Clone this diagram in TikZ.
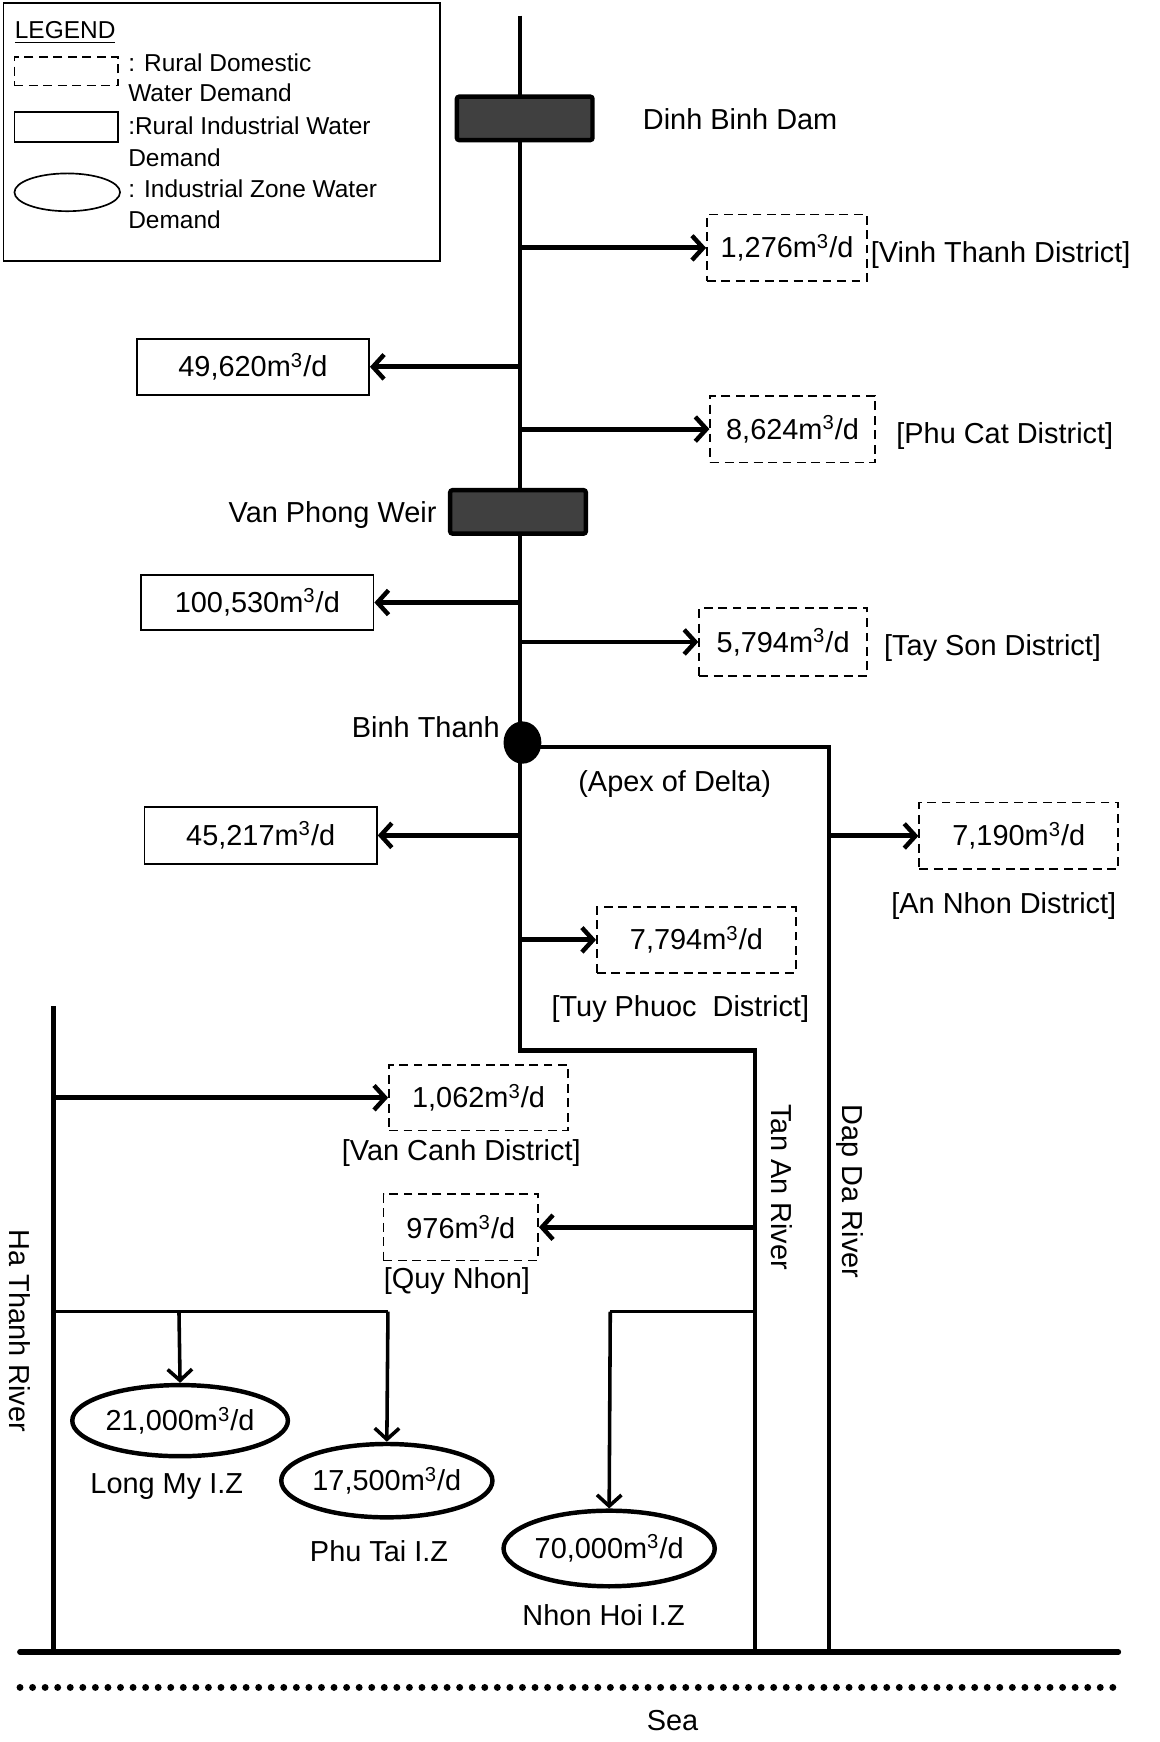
\documentclass[tikz,border=0pt]{standalone}
\usepackage{fontspec}
\setmainfont{Liberation Sans}
\usetikzlibrary{arrows.meta,shapes.geometric}
\begin{document}
\begin{tikzpicture}[x=0.5pt,y=-0.5pt,
  every node/.style={font=\fontsize{13pt}{15pt}\selectfont,inner sep=0pt},
  legtext/.style={font=\fontsize{11pt}{13pt}\selectfont,anchor=base west},
  river/.style={line width=2pt,line join=miter},
  branch/.style={line width=1.6pt,line join=miter},
  flow/.style={line width=2.2pt,-{Straight Barb[length=5pt,width=11pt,line width=2pt]}},
  thinflow/.style={line width=1.6pt,-{Straight Barb[length=5pt,width=11pt,line width=1.6pt]}},
  dbox/.style={draw,dash pattern=on 4pt off 2.5pt,line width=0.8pt,rectangle},
  sbox/.style={draw,line width=0.8pt,rectangle},
  izone/.style={draw,ellipse,line width=2pt,fill=white},
  dam/.style={draw,line width=2pt,fill=black!75,rounded corners=1pt,minimum width=61pt,minimum height=19.5pt},
]
\useasboundingbox (0,0) rectangle (1043.5,1567.1);

% ---------- legend ----------
\node[draw,line width=0.75pt,rectangle,minimum width=196.5pt,minimum height=116pt] (legend) at (199.5,119) {};
\node[legtext] (legtitle) at (13,35) {\underline{LEGEND}};
\node[dbox,minimum width=46.5pt,minimum height=13pt] (legd) at (59.5,64) {};
\node[legtext] (legd1) at (115,64) {: Rural Domestic};
\node[legtext] (legd2) at (115,91) {Water Demand};
\node[sbox,minimum width=46.5pt,minimum height=13.5pt] (legs) at (59.5,114.5) {};
\node[legtext] (legs1) at (115,121) {:Rural Industrial Water};
\node[legtext] (legs2) at (115,149.5) {Demand};
\node[draw,ellipse,line width=0.75pt,minimum width=47.5pt,minimum height=17pt] (lege) at (60.5,173) {};
\node[legtext] (lege1) at (115,178) {: Industrial Zone Water};
\node[legtext] (lege2) at (115,206) {Demand};

% ---------- rivers ----------
\coordinate (mtop) at (468,14);
\coordinate (mbend) at (468,945);
\coordinate (tbend) at (679,945);
\coordinate (tend) at (679,1486);
\coordinate (dstart) at (470,672);
\coordinate (dbend) at (746,672);
\coordinate (dend) at (746,1486);
\coordinate (htop) at (48,905);
\coordinate (hend) at (48,1486);
\coordinate (hb) at (48,1180);
\coordinate (hc) at (349,1180);
\coordinate (lmc) at (161,1180);
\coordinate (tb) at (679,1180);
\coordinate (tc) at (549,1180);
\coordinate (coastL) at (18,1486);
\coordinate (coastR) at (1006,1486);
\coordinate (dotL) at (18,1518);
\coordinate (dotR) at (1006,1518);

\draw[river] (mtop) -- (mbend) -- (tbend) -- (tend);
\draw[river] (dstart) -- (dbend) -- (dend);
\draw[river] (htop) -- (hend);
\draw[line width=2.6pt,line cap=round] (coastL) -- (coastR);
\draw[line width=3.1pt,line cap=round,dash pattern=on 0pt off 5.65pt] (dotL) -- (dotR);

% ---------- dams and junction ----------
\node[dam] (dinh) at (472,106.5) {};
\node[anchor=west] (dinhlab) at (578,107) {Dinh Binh Dam};
\node[dam] (vanphong) at (466,460.5) {};
\node[anchor=east] (vplab) at (393,463) {Van Phong Weir};
\node[ellipse,fill=black,minimum width=17pt,minimum height=19pt] (binh) at (470,668) {};
\node[anchor=east] (binhlab) at (450,654) {Binh Thanh};
\node (apex) at (607,705) {(Apex of Delta)};

% ---------- demand boxes ----------
\node[dbox,minimum width=72pt,minimum height=30pt] (b1) at (708,223) {1,276m\textsuperscript{3}/d};
\node[anchor=west] (b1lab) at (783,229) {[Vinh Thanh District]};
\node[sbox,minimum width=104.5pt,minimum height=25pt] (b2) at (227.5,330) {49,620m\textsuperscript{3}/d};
\node[dbox,minimum width=74pt,minimum height=30pt] (b3) at (713,386) {8,624m\textsuperscript{3}/d};
\node[anchor=west] (b3lab) at (806,392) {[Phu Cat District]};
\node[sbox,minimum width=104.5pt,minimum height=25pt] (b4) at (231.5,542) {100,530m\textsuperscript{3}/d};
\node[dbox,minimum width=75.5pt,minimum height=30.5pt] (b5) at (704.5,577.5) {5,794m\textsuperscript{3}/d};
\node[anchor=west] (b5lab) at (795,583) {[Tay Son District]};
\node[sbox,minimum width=104.5pt,minimum height=25.5pt] (b6) at (234.5,751.5) {45,217m\textsuperscript{3}/d};
\node[dbox,minimum width=89.5pt,minimum height=30pt] (b7) at (916.5,752) {7,190m\textsuperscript{3}/d};
\node (b7lab) at (903,815) {[An Nhon District]};
\node[dbox,minimum width=89.5pt,minimum height=29.5pt] (b8) at (626.5,845.5) {7,794m\textsuperscript{3}/d};
\node (b8lab) at (612,908) {[Tuy Phuoc\ \ District]};
\node[dbox,minimum width=80.5pt,minimum height=29.5pt] (b9) at (430.5,987.5) {1,062m\textsuperscript{3}/d};
\node (b9lab) at (415,1037) {[Van Canh District]};
\node[dbox,minimum width=69.5pt,minimum height=30pt] (b10) at (414.5,1104) {976m\textsuperscript{3}/d};
\node (b10lab) at (411,1152) {[Quy Nhon]};

% ---------- industrial zones ----------
\node[izone,minimum width=97pt,minimum height=32pt] (lm) at (162,1278) {21,000m\textsuperscript{3}/d};
\node (lmlab) at (150,1337) {Long My I.Z};
\node[izone,minimum width=95pt,minimum height=33pt] (pt) at (348,1332) {17,500m\textsuperscript{3}/d};
\node (ptlab) at (341,1395) {Phu Tai I.Z};
\node[izone,minimum width=95pt,minimum height=34pt] (nh) at (548,1393) {70,000m\textsuperscript{3}/d};
\node (nhlab) at (543,1453) {Nhon Hoi I.Z};

% ---------- connectors ----------
\draw[flow] (b1.west -| mtop) -- (b1.west);
\draw[flow] (b2.east -| mtop) -- (b2.east);
\draw[flow] (b3.west -| mtop) -- (b3.west);
\draw[flow] (b4.east -| mtop) -- (b4.east);
\draw[flow] (b5.west -| mtop) -- (b5.west);
\draw[flow] (b6.east -| mtop) -- (b6.east);
\draw[flow] (b7.west -| dbend) -- (b7.west);
\draw[flow] (b8.west -| mtop) -- (b8.west);
\draw[flow] (b9.west -| htop) -- (b9.west);
\draw[flow] (b10.east -| tend) -- (b10.east);
\draw[branch] (hb) -- (hc);
\draw[thinflow] (hc) -- (pt.north);
\draw[thinflow] (lmc) -- (lm.north);
\draw[branch] (tb) -- (tc);
\draw[thinflow] (tc) -- (nh.north);

% ---------- river names ----------
\node[rotate=-90] (hathanh) at (18,1197) {Ha Thanh River};
\node[rotate=-90] (tanan) at (703,1068) {Tan An River};
\node[rotate=-90] (dapda) at (765,1072) {Dap Da River};
\node (sea) at (605,1548) {Sea};
\end{tikzpicture}
\end{document}
